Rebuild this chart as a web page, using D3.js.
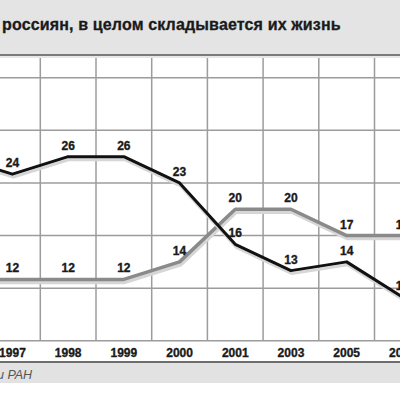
<!DOCTYPE html>
<html><head><meta charset="utf-8">
<script src="https://cdn.jsdelivr.net/npm/d3@7"></script>
<style>
html,body{margin:0;padding:0;background:#fff;}
svg{display:block;}
text{font-family:"Liberation Sans",Arial,sans-serif;}
</style></head>
<body>
<script>
const titleText = "россиян, в целом складывается их жизнь";
const sourceText = "и РАН";
const years = ["1996","1997","1998","1999","2000","2001","2003","2005","2007"];
const blackValues = [26,24,26,26,23,16,13,14,10];
const grayValues = [12,12,12,12,14,20,20,17,17];
const gridTicks = [5,11,17,23,29,35];

const W = 400, H = 400;
const svg = d3.select("body").append("svg").attr("width", W).attr("height", H);

// backgrounds
svg.append("rect").attr("x",0).attr("y",0).attr("width",W).attr("height",54).attr("fill","#e4e4e4");
svg.append("rect").attr("x",0).attr("y",363).attr("width",W).attr("height",20).attr("fill","#e2e2e2");
svg.append("line").attr("x1",0).attr("x2",W).attr("y1",55).attr("y2",55).attr("stroke","#7a7a7a").attr("stroke-width",2);
svg.append("line").attr("x1",0).attr("x2",W).attr("y1",57).attr("y2",57).attr("stroke","#cfcfcf").attr("stroke-width",1);
svg.append("line").attr("x1",0).attr("x2",W).attr("y1",362).attr("y2",362).attr("stroke","#6e6e6e").attr("stroke-width",2);

svg.append("text").attr("x",2).attr("y",30).attr("font-size",16).attr("font-weight","bold")
  .attr("letter-spacing",0.15).attr("stroke","#1a1a1a").attr("stroke-width",0.3)
  .attr("fill","#1a1a1a").text(titleText);
svg.append("text").attr("x",-3).attr("y",379).attr("font-size",12.5).attr("font-style","italic")
  .attr("fill","#555").text(sourceText);

const x = d3.scaleBand().domain(years).range([-71.1, 430.2]).paddingInner(0).paddingOuter(0);
const y = d3.scaleLinear().domain([5,35]).range([340.8,77.7]);
const cx = d => x(d) + x.bandwidth()/2;
const visible = d => cx(d) > -20;

// grid
const g = svg.append("g");
g.selectAll("line.h").data(gridTicks).join("line")
  .attr("x1",0).attr("x2",W).attr("y1",d=>y(d)).attr("y2",d=>y(d))
  .attr("stroke","#9c9c9c").attr("stroke-width",1.5);
const vb = years.slice(1).map(d => x(d));
g.selectAll("line.v").data(vb).join("line")
  .attr("x1",d=>d).attr("x2",d=>d).attr("y1",58).attr("y2",y(5))
  .attr("stroke","#9c9c9c").attr("stroke-width",1.5);

// axis labels
const axis = svg.append("g").attr("transform",`translate(0,${y(5)})`)
  .call(d3.axisBottom(x).tickSize(0).tickPadding(8).tickValues(years.filter(visible)));
axis.select(".domain").remove();
axis.selectAll("text").attr("font-size",12).attr("font-weight","bold").attr("fill","#1a1a1a")
  .attr("stroke","#1a1a1a").attr("stroke-width",0.35)
  .attr("font-family","\"Liberation Sans\",Arial,sans-serif");

const line = d3.line().x((d,i)=>cx(years[i])).y(d=>y(d)).curve(d3.curveLinear);

// gray series
svg.append("path").datum(grayValues).attr("d",line).attr("transform","translate(1,3)")
  .attr("fill","none").attr("stroke","#d6d6d6").attr("stroke-width",3.5).attr("stroke-linejoin","round");
svg.append("path").datum(grayValues).attr("d",line)
  .attr("fill","none").attr("stroke","#8a8a8a").attr("stroke-width",3.5).attr("stroke-linejoin","round");
// black series
svg.append("path").datum(blackValues).attr("d",line).attr("transform","translate(1,3)")
  .attr("fill","none").attr("stroke","#d6d6d6").attr("stroke-width",3).attr("stroke-linejoin","round");
svg.append("path").datum(blackValues).attr("d",line)
  .attr("fill","none").attr("stroke","#111").attr("stroke-width",3).attr("stroke-linejoin","round");

// value labels
function labels(vals){
  const pts = vals.map((v,i)=>({v, yr: years[i]})).filter(p=>visible(p.yr));
  svg.append("g").selectAll("text").data(pts).join("text")
    .attr("x",d=>cx(d.yr)).attr("y",d=>y(d.v)-7)
    .attr("text-anchor","middle").attr("font-size",12).attr("font-weight","bold")
    .attr("fill","#1a1a1a").attr("stroke","#1a1a1a").attr("stroke-width",0.35)
    .text(d=>d.v);
}
labels(grayValues);
labels(blackValues);
</script>
</body></html>
